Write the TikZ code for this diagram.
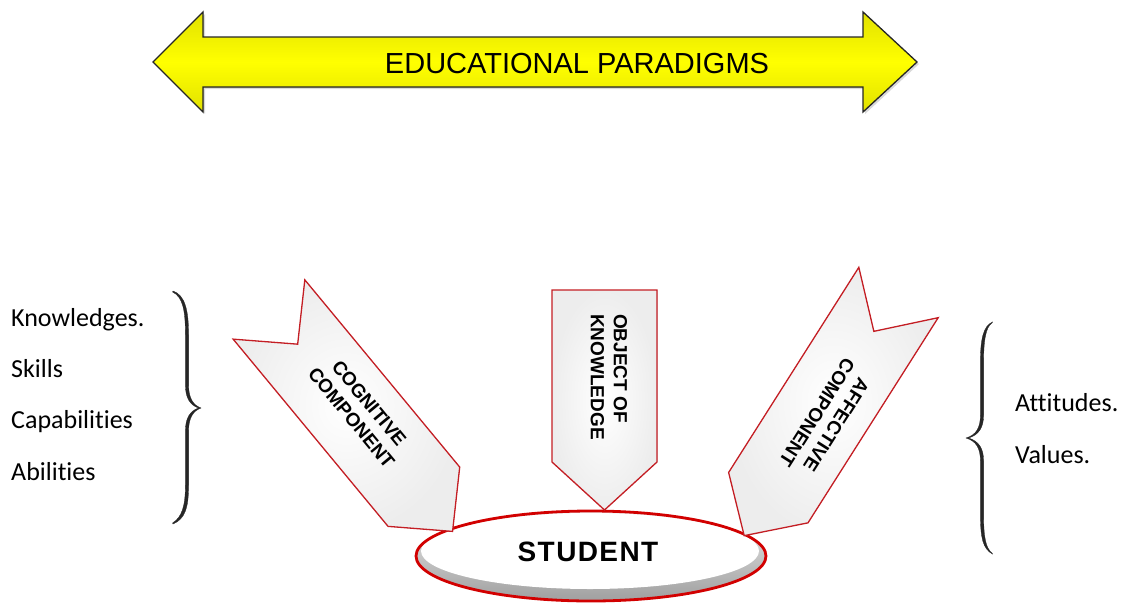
\documentclass[tikz,border=0pt]{standalone}
\usepackage{fontspec}
\setmainfont{Liberation Sans}
\newfontfamily\calibrifont[Ligatures=NoCommon]{Carlito}
\usetikzlibrary{shapes.geometric,shadows}
\definecolor{chevred}{RGB}{196,30,36}
\definecolor{ellred}{RGB}{210,0,0}
\definecolor{arrowyellow}{RGB}{255,255,0}
\definecolor{arrowdark}{RGB}{225,225,0}
\begin{document}
\begin{tikzpicture}[x=1pt,y=-1pt,
  chev/.style={draw=chevred, line width=1.3pt, line join=miter, inner color=white, outer color=gray!14},
  chevtext/.style={font=\fontsize{19}{23}\selectfont\bfseries, align=center, inner sep=0pt},
  sidetext/.style={font=\calibrifont\fontsize{26}{30}\selectfont, anchor=base west, inner sep=0pt},
  bracefill/.style={fill=black!85, draw=black!85, line width=0.3pt}
]
\useasboundingbox (0,0) rectangle (1124,608);

% top double arrow
\filldraw[draw=black!85, line width=1.3pt, line join=miter,
  top color=arrowdark, bottom color=arrowdark, middle color=arrowyellow,
  drop shadow={opacity=0.3, shadow xshift=2pt, shadow yshift=-2pt}]
  (153,62) -- (203,12) -- (203,37) -- (863,37) -- (863,12) -- (917,62)
  -- (863,112) -- (863,87) -- (203,87) -- (203,112) -- cycle;
\node[font=\fontsize{29}{34}\selectfont, inner sep=0pt] (paradigms) at (577,64) {EDUCATIONAL PARADIGMS};

% student ellipse
\shade[top color=gray!15, bottom color=gray!75] (591,556) ellipse [x radius=175, y radius=45];
\fill[white] (590,551) ellipse [x radius=169, y radius=38];
\node[draw=ellred, line width=2.8pt, ellipse, minimum width=350pt, minimum height=90pt, inner sep=0pt] (student) at (591,556) {};
\node[font=\fontsize{28}{32}\selectfont\bfseries\addfontfeature{LetterSpace=5}, inner sep=0pt] (studenttext) at (588,552) {STUDENT};

% cognitive chevron
\begin{scope}[shift={(269,309.5)}, rotate=-50.4]
  \filldraw[chev] (0,-46.5) -- (243,-46.5) -- (288,0) -- (243,46.5) -- (0,46.5) -- (45,0) -- cycle;
  \node[chevtext, rotate=-50.4] (cog) at (136,-6) {COGNITIVE\\COMPONENT};
\end{scope}

% object of knowledge chevron
\filldraw[chev] (552,290) -- (657,290) -- (657,462) -- (604.5,510) -- (552,462) -- cycle;
\node[chevtext, rotate=-90, align=left] (obj) at (609,377) {OBJECT OF\\KNOWLEDGE};

% affective chevron
\begin{scope}[shift={(898.5,292.5)}, rotate=-122.4]
  \filldraw[chev] (0,-47) -- (243,-47) -- (288,0) -- (243,47) -- (0,47) -- (46,0) -- cycle;
  \node[chevtext, rotate=-122.4] (aff) at (145,-7) {AFFECTIVE\\COMPONENT};
\end{scope}

% left list
\node[sidetext] (know) at (11,326) {Knowledges.};
\node[sidetext] (skills) at (11,377) {Skills};
\node[sidetext] (capab) at (11,428) {Capabilities};
\node[sidetext] (abil) at (11,480) {Abilities};

% left brace
\filldraw[bracefill] (173,291) .. controls (185,295) and (188.6,310) .. (188.6,335) -- (188.6,385)
  .. controls (188.6,398) and (193,405) .. (201,408)
  .. controls (193,411) and (188.6,418) .. (188.6,431) -- (188.6,485)
  .. controls (188.6,508) and (185,519) .. (173,524)
  -- (172.6,523) .. controls (182,517) and (185.4,506) .. (185.4,485) -- (185.4,431)
  .. controls (185.4,418) and (190,411) .. (198.5,408)
  .. controls (190,405) and (185.4,398) .. (185.4,385) -- (185.4,335)
  .. controls (185.4,311) and (183,297) .. (172.6,292) -- cycle;

% right list
\node[sidetext] (att) at (1015,411) {Attitudes.};
\node[sidetext] (val) at (1015,463) {Values.};

% right brace
\filldraw[bracefill] (992.5,322) .. controls (983,326) and (980.4,340) .. (980.4,362) -- (980.4,415)
  .. controls (980.4,428) and (976,435) .. (966,438)
  .. controls (976,441) and (980.4,448) .. (980.4,461) -- (980.4,515)
  .. controls (980.4,538) and (983,549) .. (992.5,554)
  -- (992,553) .. controls (985.6,548) and (983.6,537) .. (983.6,515) -- (983.6,461)
  .. controls (983.6,448) and (978.5,441) .. (968.5,438)
  .. controls (978.5,435) and (983.6,428) .. (983.6,415) -- (983.6,362)
  .. controls (983.6,341) and (985.6,327) .. (992,323) -- cycle;
\end{tikzpicture}
\end{document}
